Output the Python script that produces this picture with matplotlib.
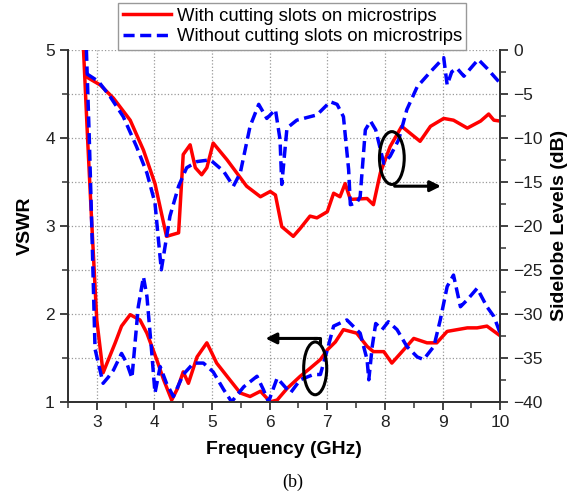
import numpy as np
import matplotlib
matplotlib.use("Agg")
from matplotlib import pyplot as plt
from matplotlib.patches import Ellipse
from matplotlib.ticker import MultipleLocator

plt.rcParams['font.family'] = ['Liberation Sans', 'DejaVu Sans']

# VSWR (left axis)
f_vswr_with = [2.77, 2.84, 2.91, 3.0, 3.11, 3.32, 3.43, 3.58, 3.75, 3.87, 4.04, 4.16, 4.30, 4.40,
               4.50, 4.59, 4.74, 4.91, 5.0, 5.08, 5.26, 5.49, 5.66, 5.84, 6.01, 6.13, 6.3, 6.53,
               6.7, 6.88, 7.0, 7.14, 7.28, 7.51, 7.69, 7.80, 7.98, 8.12, 8.27, 8.50, 8.73, 8.90,
               9.08, 9.43, 9.60, 9.77, 10.0]
vswr_with = [5.0, 4.0, 3.07, 1.93, 1.33, 1.67, 1.86, 1.99, 1.93, 1.78, 1.48, 1.25, 1.02, 1.15,
             1.34, 1.21, 1.51, 1.67, 1.55, 1.44, 1.29, 1.10, 1.06, 1.12, 1.0, 1.02, 1.15, 1.29,
             1.38, 1.48, 1.59, 1.68, 1.82, 1.78, 1.63, 1.57, 1.57, 1.44, 1.55, 1.72, 1.67, 1.67,
             1.80, 1.84, 1.84, 1.86, 1.75]

f_vswr_without = [2.82, 2.87, 2.91, 2.97, 3.11, 3.2, 3.29, 3.43, 3.52, 3.61, 3.72, 3.81, 3.87,
                  3.95, 4.01, 4.1, 4.21, 4.33, 4.50, 4.68, 4.85, 5.02, 5.20, 5.34, 5.55, 5.78,
                  5.89, 5.98, 6.13, 6.36, 6.53, 6.76, 6.88, 7.0, 7.11, 7.34, 7.57, 7.69, 7.72,
                  7.78, 7.84, 7.95, 8.06, 8.21, 8.38, 8.56, 8.67, 8.85, 8.96, 9.08, 9.19, 9.31,
                  9.43, 9.60, 9.77, 9.89, 10.0]
vswr_without = [5.0, 4.0, 3.07, 1.6, 1.21, 1.28, 1.36, 1.55, 1.44, 1.27, 2.08, 2.42, 2.2,
                1.59, 1.10, 1.40, 1.21, 1.06, 1.31, 1.44, 1.44, 1.34, 1.14, 1.0, 1.17, 1.29,
                1.14, 1.0, 1.27, 1.10, 1.25, 1.31, 1.31, 1.59, 1.86, 1.93, 1.78, 1.48, 1.25,
                1.63, 1.89, 1.82, 1.91, 1.82, 1.63, 1.51, 1.48, 1.63, 1.93, 2.31, 2.44, 2.08,
                2.16, 2.29, 2.08, 1.97, 1.78]

# Sidelobe levels (right axis)
f_sll_with = [2.8, 3.06, 3.29, 3.58, 3.81, 4.01, 4.21, 4.42, 4.50, 4.62, 4.71, 4.82, 4.91, 5.02,
              5.26, 5.60, 5.84, 6.01, 6.10, 6.21, 6.41, 6.53, 6.70, 6.82, 7.0, 7.11, 7.22, 7.31,
              7.40, 7.69, 7.80, 7.92, 8.09, 8.29, 8.61, 8.79, 9.02, 9.19, 9.43, 9.66, 9.80, 9.89,
              10.0]
sll_with = [-3.0, -4.0, -5.5, -8.0, -11.4, -15.2, -21.2, -20.8, -11.9, -10.8, -13.4, -14.2, -13.4,
            -10.6, -12.5, -15.5, -16.7, -16.1, -16.5, -20.1, -21.2, -20.3, -18.9, -19.1, -18.4,
            -16.3, -16.7, -15.2, -17.0, -16.9, -17.6, -14.0, -11.0, -8.7, -10.4, -8.7, -7.8,
            -8.0, -8.9, -8.1, -7.3, -8.0, -8.1]

f_sll_without = [2.82, 3.03, 3.23, 3.46, 3.69, 3.87, 4.01, 4.07, 4.12, 4.27, 4.42, 4.56, 4.74,
                 4.97, 5.20, 5.37, 5.49, 5.66, 5.81, 5.95, 6.10, 6.18, 6.21, 6.30, 6.47, 6.82,
                 7.05, 7.17, 7.28, 7.37, 7.40, 7.51, 7.57, 7.66, 7.75, 7.84, 7.98, 8.09, 8.24,
                 8.38, 8.56, 8.79, 9.02, 9.08, 9.16, 9.25, 9.37, 9.54, 9.62, 9.77, 10.0]
sll_without = [-2.7, -3.6, -5.3, -7.6, -11.0, -14.0, -17.4, -21.6, -25.0, -18.9, -15.5, -13.4,
               -12.7, -12.5, -13.8, -15.5, -14.0, -8.7, -6.2, -7.8, -6.8, -10.2, -15.3, -8.9,
               -8.0, -7.4, -5.9, -6.2, -7.6, -13.6, -17.6, -17.4, -16.7, -9.1, -8.1, -9.1,
               -12.9, -12.1, -10.2, -6.8, -4.2, -2.5, -0.9, -4.0, -2.5, -2.1, -3.0, -1.7, -1.1,
               -2.1, -3.8]

labels = ["With cutting slots on microstrips", "Without cutting slots on microstrips"]

red = "#ff0000"
blue = "#0000ff"
dash = (0, (3.2, 1.6))
lw = 2.5

fig = plt.figure(figsize=(5.71, 4.93), dpi=100)
ax = fig.add_axes([0.119, 0.185, 0.757, 0.714])
ax2 = ax.twinx()

l1, = ax.plot(f_vswr_with, vswr_with, color=red, lw=lw, solid_joinstyle='round')
l2, = ax.plot(f_vswr_without, vswr_without, color=blue, lw=lw, linestyle=dash)
ax2.plot(f_sll_with, sll_with, color=red, lw=lw, solid_joinstyle='round')
ax2.plot(f_sll_without, sll_without, color=blue, lw=lw, linestyle=dash)

ax.set_xlim(2.5, 10)
ax.set_ylim(1, 5)
ax2.set_ylim(-40, 0)

ax.xaxis.set_major_locator(MultipleLocator(1))
ax.xaxis.set_minor_locator(MultipleLocator(0.5))
ax.yaxis.set_major_locator(MultipleLocator(1))
ax.yaxis.set_minor_locator(MultipleLocator(0.5))
ax2.yaxis.set_major_locator(MultipleLocator(5))
ax2.yaxis.set_minor_locator(MultipleLocator(2.5))

ax.grid(axis='x', which='major', linestyle=':', color='#999999', lw=0.9)
ax.grid(axis='y', which='both', linestyle=':', color='#999999', lw=0.9)

for a in (ax, ax2):
    a.spines['top'].set_visible(False)
    for s in ('left', 'right', 'bottom'):
        a.spines[s].set_linewidth(1.4)
        a.spines[s].set_color('#333333')
    a.tick_params(which='major', direction='out', length=6, width=1.3, labelsize=12.5,
                  colors='#333333', labelcolor='#222222')
    a.tick_params(which='minor', direction='out', length=4, width=1.1, colors='#333333')

ax.set_xlabel("Frequency (GHz)", fontsize=14, fontweight='bold', labelpad=8)
ax.set_ylabel("VSWR", fontsize=14, fontweight='bold', labelpad=8)
ax2.set_ylabel("Sidelobe Levels (dB)", fontsize=14, fontweight='bold', labelpad=6)

# annotations: ellipses + arrows pointing to each axis
e1 = Ellipse((8.12, -12.3), 0.43, 6.0, fill=False, edgecolor='black', lw=2.2, zorder=5)
ax2.add_patch(e1)
ax2.annotate("", xy=(9.02, -15.5), xytext=(8.12, -15.5),
             arrowprops=dict(arrowstyle='-|>', color='black', lw=2.2, mutation_scale=16), zorder=5)

e2 = Ellipse((6.79, 1.38), 0.40, 0.6, fill=False, edgecolor='black', lw=2.2, zorder=5)
ax.add_patch(e2)
ax.plot([6.79, 6.88, 6.88], [1.72, 1.72, 1.68], color='black', lw=2.2, zorder=5)
ax.annotate("", xy=(5.88, 1.72), xytext=(6.88, 1.72),
            arrowprops=dict(arrowstyle='-|>', color='black', lw=2.2, mutation_scale=16), zorder=5)

leg = fig.legend([l1, l2], labels, loc='upper center', bbox_to_anchor=(0.512, 0.994),
                 fontsize=13.3, frameon=True, fancybox=False, framealpha=1, edgecolor='#999999',
                 handlelength=2.6, labelspacing=0.2, borderpad=0.25, handletextpad=0.3,
                 borderaxespad=0)
leg.get_frame().set_linewidth(1.0)

fig.text(0.512, 0.004, "(b)", ha='center', va='bottom', fontsize=13, family='Liberation Serif')

fig.savefig("out.png", dpi=100)
